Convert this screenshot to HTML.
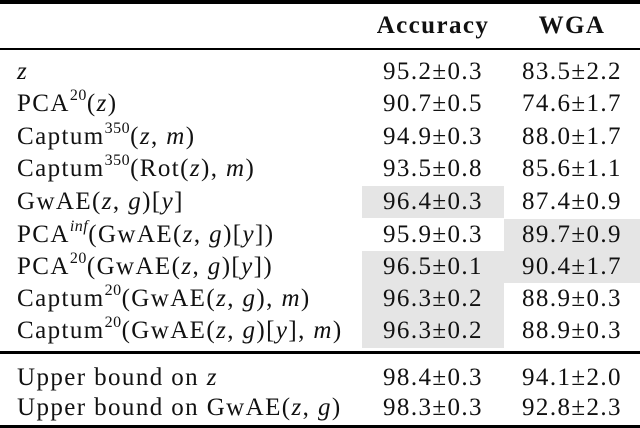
<!DOCTYPE html>
<html><head><meta charset="utf-8"><style>
body{margin:0;background:#fff;}
#t{position:relative;width:640px;height:428px;overflow:hidden;font-family:"Liberation Serif","Times New Roman","DejaVu Serif",serif;font-size:25px;letter-spacing:1.4px;color:#111;}
#t *{font-family:"Liberation Serif","Times New Roman","DejaVu Serif",serif;}
.r{position:absolute;left:0;width:640px;height:32px;line-height:32px;}
.l{position:absolute;left:17px;white-space:nowrap;}
.a{position:absolute;left:362px;width:142px;text-align:center;}
.w{position:absolute;left:504px;width:136px;text-align:center;}
.g{background:#e5e5e5;}
.rule{position:absolute;left:0;width:640px;background:#000;}
i{font-style:italic;}
sup{font-size:16px;letter-spacing:0.5px;line-height:0;position:relative;top:-2px;}
</style></head><body><div id="t">
<div class="rule" style="top:0;height:4px"></div>
<div class="r" style="top:10px;font-weight:bold"><span class="a">Accuracy</span><span class="w">WGA</span></div>
<div class="rule" style="top:48px;height:2px"></div>

<div class="r" style="top:56px"><span class="l"><i>z</i></span><span class="a">95.2±0.3</span><span class="w">83.5±2.2</span></div>
<div class="r" style="top:88px"><span class="l">PCA<sup>20</sup>(<i>z</i>)</span><span class="a">90.7±0.5</span><span class="w">74.6±1.7</span></div>
<div class="r" style="top:121px"><span class="l">Captum<sup>350</sup>(<i>z</i>, <i>m</i>)</span><span class="a">94.9±0.3</span><span class="w">88.0±1.7</span></div>
<div class="r" style="top:153px"><span class="l">Captum<sup>350</sup>(Rot(<i>z</i>), <i>m</i>)</span><span class="a">93.5±0.8</span><span class="w">85.6±1.1</span></div>
<div class="r" style="top:186px;height:33px"><span class="l">GwAE(<i>z</i>, <i>g</i>)[<i>y</i>]</span><span class="a g">96.4±0.3</span><span class="w">87.4±0.9</span></div>
<div class="r" style="top:219px"><span class="l">PCA<sup><i>inf</i></sup>(GwAE(<i>z</i>, <i>g</i>)[<i>y</i>])</span><span class="a">95.9±0.3</span><span class="w g">89.7±0.9</span></div>
<div class="r" style="top:251px"><span class="l">PCA<sup>20</sup>(GwAE(<i>z</i>, <i>g</i>)[<i>y</i>])</span><span class="a g">96.5±0.1</span><span class="w g">90.4±1.7</span></div>
<div class="r" style="top:283px"><span class="l">Captum<sup>20</sup>(GwAE(<i>z</i>, <i>g</i>), <i>m</i>)</span><span class="a g">96.3±0.2</span><span class="w">88.9±0.3</span></div>
<div class="r" style="top:315px;height:33px"><span class="l">Captum<sup>20</sup>(GwAE(<i>z</i>, <i>g</i>)[<i>y</i>], <i>m</i>)</span><span class="a g" style="height:33px">96.3±0.2</span><span class="w">88.9±0.3</span></div>

<div class="rule" style="top:351px;height:3px"></div>
<div class="r" style="top:362px"><span class="l">Upper bound on <i>z</i></span><span class="a">98.4±0.3</span><span class="w">94.1±2.0</span></div>
<div class="r" style="top:392px"><span class="l">Upper bound on GwAE(<i>z</i>, <i>g</i>)</span><span class="a">98.3±0.3</span><span class="w">92.8±2.3</span></div>
<div class="rule" style="top:425px;height:3px"></div>
</div></body></html>
